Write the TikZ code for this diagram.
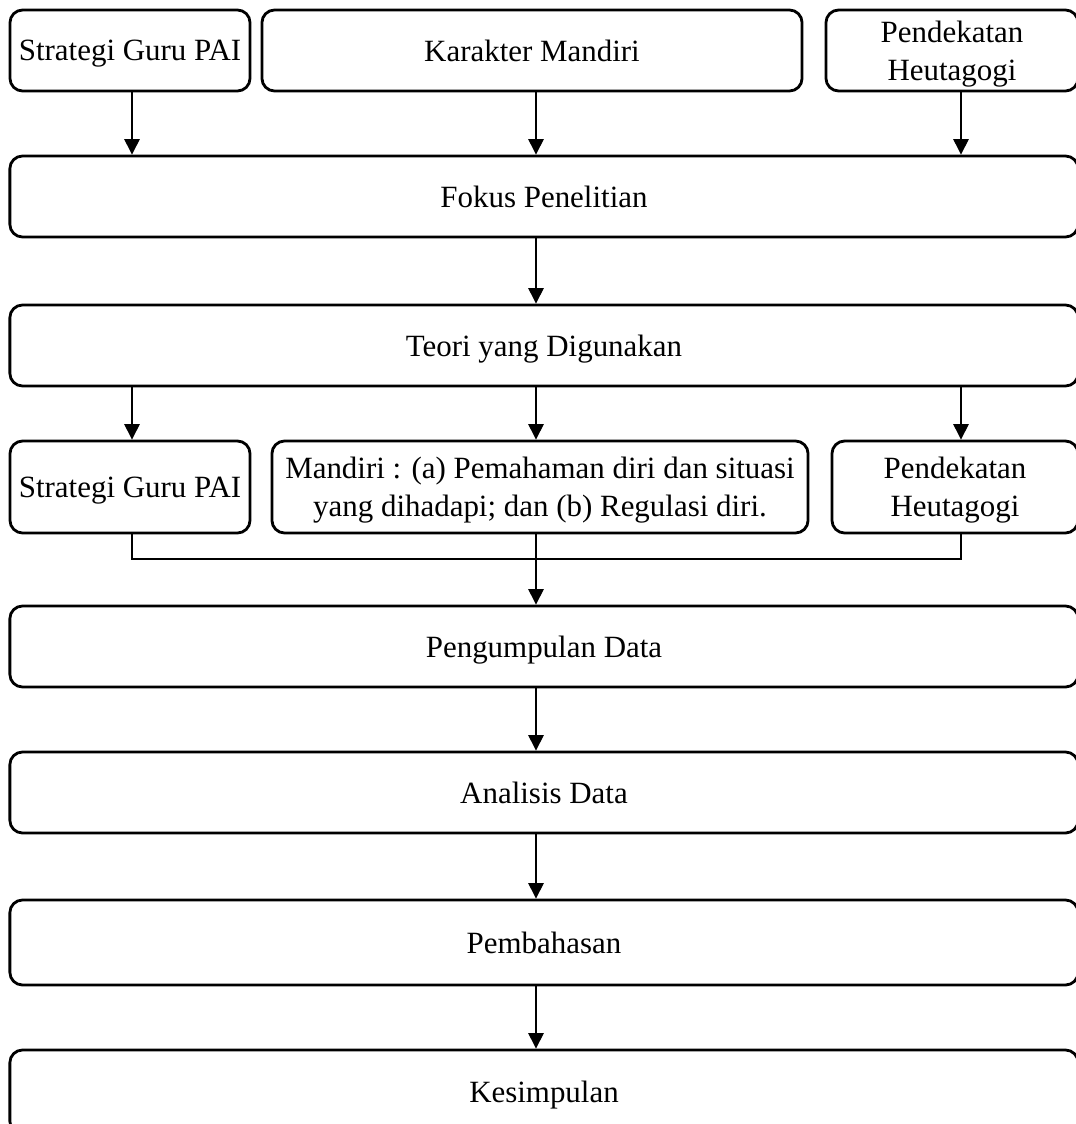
\documentclass[tikz,border=0pt]{standalone}
\usepackage{fontspec}
\setmainfont{Liberation Serif}
\usetikzlibrary{arrows.meta}

\tikzset{
  kotak/.style={draw, rounded corners=9pt, line width=2pt, inner sep=0pt,
    align=center, text depth=0pt, font=\fontsize{22}{27}\selectfont},
  panah/.style={-{Triangle[length=11pt,width=11pt]}, line width=0.8pt},
  garis/.style={line width=0.8pt}
}

\begin{document}
\begin{tikzpicture}[x=0.025cm,y=-0.025cm]

  \useasboundingbox (0,0) rectangle (1076,1124);

  \coordinate (colA) at (132,0);
  \coordinate (colB) at (536,0);
  \coordinate (colC) at (961,0);
  \coordinate (gabung) at (0,559);

  % baris atas
  \node[kotak, minimum width=6cm, minimum height=2.025cm] (strategi1) at (130,50.5) {Strategi Guru PAI};
  \node[kotak, minimum width=13.5cm, minimum height=2.025cm] (karakter) at (532,50.5) {Karakter Mandiri};
  \node[kotak, minimum width=6.3cm, minimum height=2.025cm] (heuta1) at (952,50.5) {Pendekatan\\Heutagogi};

  \node[kotak, minimum width=26.7cm, minimum height=2.025cm] (fokus) at (544,196.5) {Fokus Penelitian};
  \node[kotak, minimum width=26.7cm, minimum height=2.025cm] (teori) at (544,345.5) {Teori yang Digunakan};

  % baris tengah
  \node[kotak, minimum width=6cm, minimum height=2.3cm] (strategi2) at (130,487) {Strategi Guru PAI};
  \node[kotak, minimum width=13.4cm, minimum height=2.3cm] (mandiri) at (540,487)
    {Mandiri : (a) Pemahaman diri dan situasi\\yang dihadapi; dan (b) Regulasi diri.};
  \node[kotak, minimum width=6.15cm, minimum height=2.3cm] (heuta2) at (955,487) {Pendekatan\\Heutagogi};

  \node[kotak, minimum width=26.7cm, minimum height=2.025cm] (kumpul) at (544,646.5) {Pengumpulan Data};
  \node[kotak, minimum width=26.7cm, minimum height=2.025cm] (analisis) at (544,792.5) {Analisis Data};
  \node[kotak, minimum width=26.7cm, minimum height=2.125cm] (bahas) at (544,942.5) {Pembahasan};
  \node[kotak, minimum width=26.7cm, minimum height=2.1cm] (simpul) at (544,1092) {Kesimpulan};

  \draw[panah] (strategi1.south -| colA) -- (fokus.north -| colA);
  \draw[panah] (karakter.south -| colB) -- (fokus.north -| colB);
  \draw[panah] (heuta1.south -| colC) -- (fokus.north -| colC);

  \draw[panah] (fokus.south -| colB) -- (teori.north -| colB);

  \draw[panah] (teori.south -| colA) -- (strategi2.north -| colA);
  \draw[panah] (teori.south -| colB) -- (mandiri.north -| colB);
  \draw[panah] (teori.south -| colC) -- (heuta2.north -| colC);

  \draw[garis] (strategi2.south -| colA) |- (gabung -| colC) -- (heuta2.south -| colC);
  \draw[panah] (mandiri.south -| colB) -- (kumpul.north -| colB);

  \draw[panah] (kumpul.south -| colB) -- (analisis.north -| colB);
  \draw[panah] (analisis.south -| colB) -- (bahas.north -| colB);
  \draw[panah] (bahas.south -| colB) -- (simpul.north -| colB);

\end{tikzpicture}
\end{document}
